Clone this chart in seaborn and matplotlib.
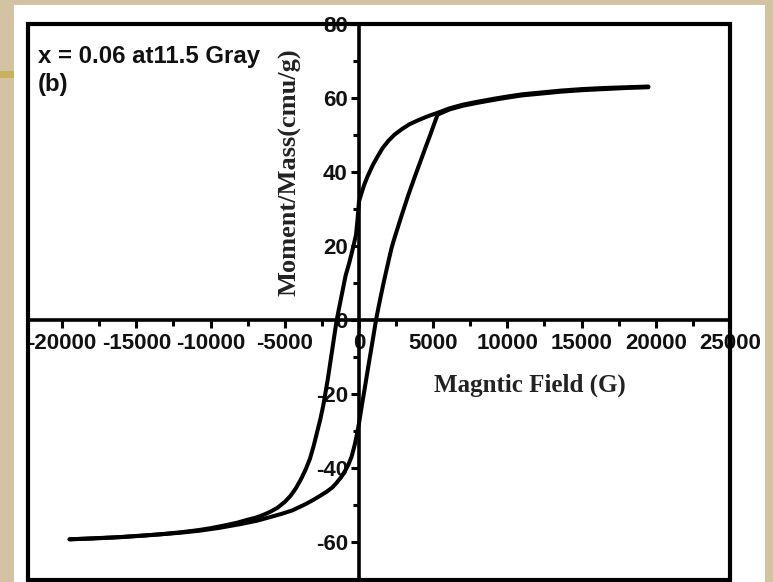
import matplotlib
matplotlib.use("Agg")
import matplotlib.pyplot as plt
from matplotlib.patches import Rectangle
from matplotlib.ticker import MultipleLocator
import pandas as pd
import seaborn as sns

# Hysteresis loop, x = 0.06 irradiated at 11.5 Gray
# descending branch (from +H_max down to -H_max)
field_desc = [19500, 18000, 16500, 15000, 13600, 12300, 11000, 10000, 9100, 8000,
              7000, 6100, 5300, 4600, 4000, 3400, 2900, 2400, 2000, 1600, 1300,
              950, 600, 350, 150, 0, -100, -200, -400, -650, -900, -1100, -1300,
              -1500, -1650, -1800, -1950, -2100, -2250, -2400, -2600, -2800,
              -3050, -3300, -3600, -3900, -4250, -4600, -5000, -5500, -6000,
              -6500, -7000, -7500, -8200, -9000, -10000, -10800, -12000, -13000,
              -14500, -16000, -17800, -19500]
moment_desc = [63.1, 62.9, 62.7, 62.4, 62.0, 61.5, 61.0, 60.4, 59.8, 59.0,
               58.2, 57.2, 56.0, 55.0, 54.0, 52.9, 51.6, 50.1, 48.5, 46.5, 44.5,
               42.0, 39.0, 36.5, 34.0, 32.0, 27.0, 23.0, 19.5, 15.5, 12.0, 8.0, 4.0,
               0.0, -4.0, -8.0, -12.0, -16.0, -19.5, -23.0, -26.8, -30.0,
               -34.0, -37.5, -40.5, -43.0, -45.5, -47.5, -49.2, -50.8, -51.9,
               -52.8, -53.5, -54.0, -54.8, -55.5, -56.3, -56.8, -57.4, -57.8,
               -58.3, -58.7, -59.0, -59.3]

# ascending branch (from -H_max back up to +H_max)
field_asc = [-19500, -18000, -16500, -15000, -13500, -12000, -10800, -9400, -8000,
             -6900, -5900, -5200, -4500, -3600, -3100, -2600, -2200, -1800, -1500,
             -1200, -950, -700, -500, -300, -150, 0, 200, 450, 620, 800, 980, 1150,
             1320, 1500, 1680, 1860, 2030, 2200, 2420, 2650, 2870, 3100, 3320,
             3540, 3870, 4200, 4500, 4800, 5050, 5300, 6100, 7000, 8000, 9100,
             10000, 11000, 12300, 13600, 15000, 16500, 18000, 19500]
moment_asc = [-59.3, -59.1, -58.8, -58.4, -58.0, -57.5, -57.0, -56.2, -55.2,
              -54.3, -53.2, -52.4, -51.5, -49.8, -48.7, -47.5, -46.5, -45.3, -44.0,
              -42.5, -40.9, -39.0, -37.0, -34.0, -31.2, -28.0, -23.0, -17.0, -12.8,
              -8.5, -4.2, 0.0, 3.5, 7.0, 10.4, 13.6, 16.6, 19.5, 22.5, 25.4, 28.2,
              31.0, 33.7, 36.2, 39.9, 43.5, 46.8, 50.0, 52.8, 55.5, 56.9, 57.9,
              58.7, 59.5, 60.1, 60.7, 61.2, 61.7, 62.1, 62.4, 62.7, 62.9]

x_ticks = [-20000, -15000, -10000, -5000, 0, 5000, 10000, 15000, 20000, 25000]
y_ticks = [-60, -40, -20, 0, 20, 40, 60, 80]

df = pd.concat([
    pd.DataFrame({"field": field_desc, "moment": moment_desc, "branch": "desc"}),
    pd.DataFrame({"field": field_asc, "moment": moment_asc, "branch": "asc"}),
], ignore_index=True)

sns.set_theme(style="white")
plt.rcParams["font.family"] = ["Liberation Sans", "DejaVu Sans"]
plt.rcParams["axes.unicode_minus"] = False

W, H = 773, 582
fig = plt.figure(figsize=(W / 100, H / 100), dpi=100)
fig.patch.set_facecolor("#D3C3A3")

# white slide panel and small accent bar
fig.add_artist(Rectangle((14 / W, 0), (765 - 14) / W, (H - 5) / H,
                         transform=fig.transFigure, facecolor="white",
                         edgecolor="none", zorder=-2))
fig.add_artist(Rectangle((0, 1 - 78 / H), 14 / W, 7 / H,
                         transform=fig.transFigure, facecolor="#C6B25A",
                         edgecolor="none", zorder=-1))

ax = fig.add_axes([28 / W, 1 - 580 / H, (730 - 28) / W, (580 - 24) / H])
ax.set_facecolor("white")

for name, sub in df.groupby("branch", sort=False):
    sns.lineplot(data=sub, x="field", y="moment", sort=False, estimator=None,
                 color="black", lw=2.9, ax=ax, legend=False,
                 solid_capstyle="round", solid_joinstyle="round")

ax.set_xlim(-22300, 24800)
ax.set_ylim(-70.3, 80)

# axes crossing at the origin
for side in ["top", "right"]:
    ax.spines[side].set_visible(False)
ax.spines["left"].set_position(("data", 0))
ax.spines["bottom"].set_position(("data", 0))
for side in ["left", "bottom"]:
    ax.spines[side].set_linewidth(2.6)
    ax.spines[side].set_color("black")
    ax.spines[side].set_zorder(4)

# outer frame
ax.add_patch(Rectangle((0, 0), 1, 1, transform=ax.transAxes, fill=False,
                       lw=3.0, edgecolor="black", clip_on=False, zorder=5))

ax.set_xticks(x_ticks)
ax.set_yticks(y_ticks)
ax.xaxis.set_minor_locator(MultipleLocator(2500))
ax.yaxis.set_minor_locator(MultipleLocator(10))
ax.tick_params(axis="both", which="major", direction="out", length=6,
               width=2.2, color="black", bottom=True, left=True)
ax.tick_params(axis="x", which="major", labelsize=16, pad=3.5)
ax.tick_params(axis="y", which="major", labelsize=16, pad=2)
ax.tick_params(axis="both", which="minor", direction="out", length=4.5,
               width=2.2, color="black", bottom=True, left=True)
for lab in ax.get_xticklabels() + ax.get_yticklabels():
    lab.set_fontweight("bold")
    lab.set_color("#111111")
ax.set_xlabel("")
ax.set_ylabel("")

serif = ["Liberation Serif", "DejaVu Serif"]
fig.text(530 / W, 1 - 385 / H, "Magntic Field (G)", ha="center", va="center",
         fontsize=18, fontweight="bold", family=serif, color="#222222")
fig.text(290 / W, 1 - 172 / H, "Moment/Mass(cmu/g)", ha="center", va="center",
         rotation=90, fontsize=19, fontweight="bold", family=serif,
         color="#222222")

fig.text(38 / W, 1 - 63 / H, "x = 0.06 at11.5 Gray", ha="left",
         va="baseline", fontsize=17.3, fontweight="bold", color="#111111")
fig.text(38 / W, 1 - 91 / H, "(b)", ha="left", va="baseline", fontsize=17.3,
         fontweight="bold", color="#111111")

fig.savefig("out.png", dpi=100, facecolor=fig.get_facecolor())
